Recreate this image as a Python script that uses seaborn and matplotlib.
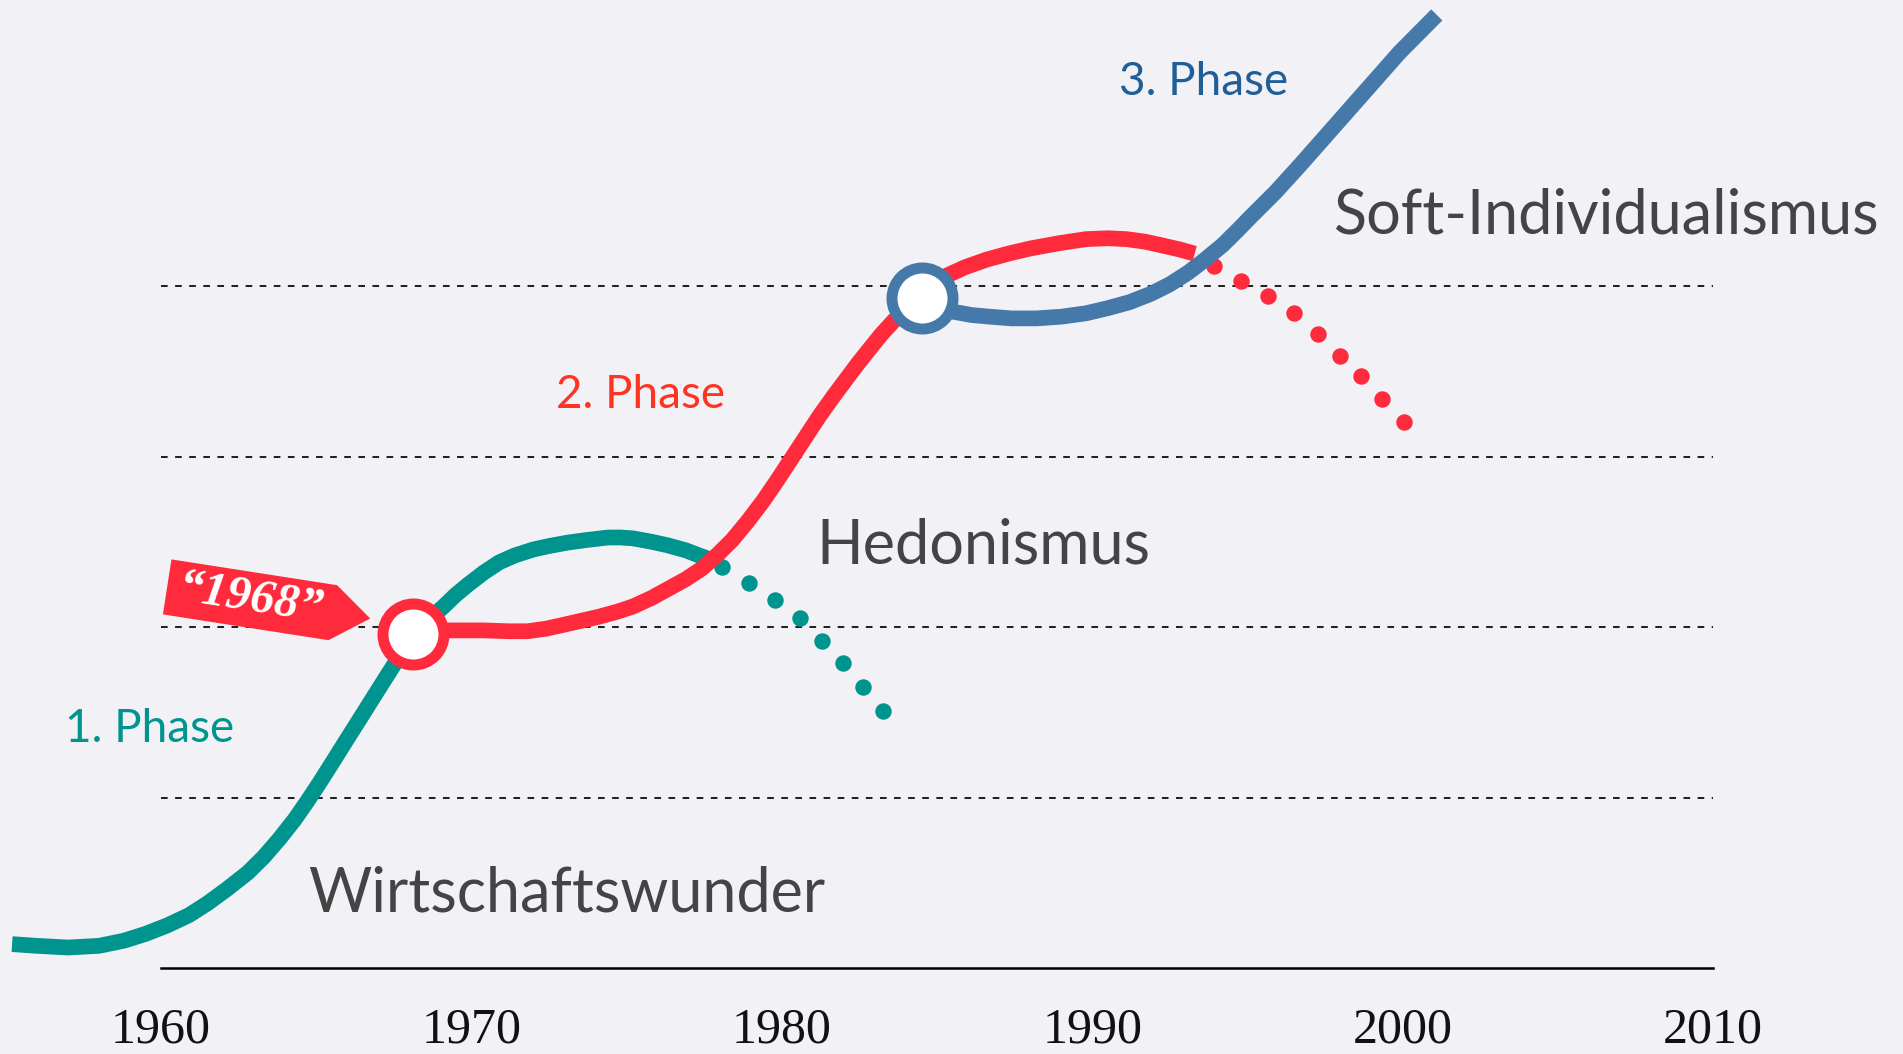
import seaborn as sns
import matplotlib.pyplot as plt
from matplotlib.path import Path

# phase curves (x = year, y = level, 1 level per band)
teal_years = [1955.2, 1956.0, 1957.0, 1958.0, 1958.8, 1959.5, 1960.2, 1960.9, 1961.5, 1962.1,
              1962.8, 1963.3, 1963.8, 1964.3, 1964.7, 1965.1, 1965.5, 1966.0, 1966.4, 1966.9,
              1967.3, 1967.7, 1968.1, 1969.1, 1969.5, 1969.9, 1970.4, 1970.9, 1971.4, 1972.0,
              1972.5, 1973.1, 1973.7, 1974.4, 1974.8, 1975.2, 1975.8, 1976.3, 1976.9, 1977.4,
              1977.8]
teal_level = [0.14, 0.13, 0.12, 0.13, 0.16, 0.20, 0.25, 0.31, 0.38, 0.46,
              0.56, 0.65, 0.755, 0.87, 0.975, 1.085, 1.20, 1.345, 1.46, 1.605,
              1.72, 1.835, 1.96, 2.12, 2.19, 2.25, 2.32, 2.38, 2.42, 2.455,
              2.475, 2.495, 2.51, 2.525, 2.525, 2.52, 2.50, 2.48, 2.45, 2.415,
              2.39]
teal_fade_years = [1978.07, 1978.94, 1979.78, 1980.59, 1981.30, 1981.97, 1982.62, 1983.26]
teal_fade_level = [2.35, 2.26, 2.16, 2.05, 1.92, 1.79, 1.65, 1.51]

red_years = [1968.1, 1968.7, 1969.3, 1970.4, 1971.2, 1971.8, 1972.4, 1972.9, 1973.5, 1974.1,
             1974.7, 1975.2, 1975.8, 1976.3, 1976.9, 1977.4, 1977.9, 1978.4, 1978.9, 1979.4,
             1979.85, 1980.3, 1980.75, 1981.2, 1981.65, 1982.1, 1982.45, 1982.8, 1983.2, 1983.6,
             1984.0, 1984.5, 1984.9, 1985.3, 1985.9, 1986.6, 1987.3, 1988.0, 1988.9, 1989.8,
             1990.5, 1991.1, 1991.7, 1992.2, 1992.8, 1993.3]
red_level = [1.96, 1.975, 1.98, 1.98, 1.975, 1.975, 1.99, 2.01, 2.035, 2.06,
             2.09, 2.12, 2.17, 2.22, 2.28, 2.34, 2.42, 2.51, 2.62, 2.74,
             2.86, 2.985, 3.11, 3.235, 3.35, 3.46, 3.545, 3.625, 3.715, 3.795,
             3.865, 3.93, 4.005, 4.06, 4.11, 4.155, 4.19, 4.22, 4.25, 4.275,
             4.28, 4.275, 4.26, 4.24, 4.215, 4.19]
red_fade_years = [1993.92, 1994.79, 1995.66, 1996.50, 1997.27, 1997.98, 1998.66, 1999.33, 2000.04]
red_fade_level = [4.12, 4.03, 3.94, 3.84, 3.72, 3.59, 3.47, 3.34, 3.20]

blue_years = [1984.5, 1985.5, 1986.1, 1986.7, 1987.4, 1988.2, 1989.0, 1989.8, 1990.5, 1991.2,
              1991.9, 1992.5, 1993.1, 1993.6, 1994.2, 1994.7, 1995.1, 1995.9, 1996.7, 1997.5,
              1998.3, 1999.1, 1999.9, 2001.1]
blue_level = [3.93, 3.85, 3.83, 3.82, 3.81, 3.81, 3.82, 3.84, 3.87, 3.905,
              3.955, 4.01, 4.08, 4.15, 4.24, 4.33, 4.405, 4.55, 4.71, 4.875,
              5.04, 5.205, 5.37, 5.59]

switch_years = [1968.1, 1984.5]
switch_level = [1.96, 3.93]

tick_years = [1960, 1970, 1980, 1990, 2000, 2010]
band_levels = [1, 2, 3, 4]
band_names = ["Wirtschaftswunder", "Hedonismus", "Soft-Individualismus"]
phase_names = ["1. Phase", "2. Phase", "3. Phase"]

BG = "#F2F1F6"
TEAL = "#00948F"
RED = "#FF2A3B"
BLUE = "#4479A9"
GREY = "#444444"

sns.set_theme(style="white", rc={"axes.facecolor": BG, "figure.facecolor": BG})
plt.rcParams["font.family"] = ["Lato", "DejaVu Sans"]

W, H, DPI = 1903, 1054, 100
fig = plt.figure(figsize=(W / DPI, H / DPI), dpi=DPI)
ax = fig.add_axes([0, 86 / H, 1, 1 - 86 / H])

# dashed band borders
ax.hlines(band_levels, tick_years[0], tick_years[-1], colors="#222222",
          linestyles=(0, (3.3, 3.7)), linewidth=1.45, zorder=1)

lw = 11.3
dot = 140
for xs, ys, c, z in [(teal_years, teal_level, TEAL, 2), (red_years, red_level, RED, 3),
                     (blue_years, blue_level, BLUE, 4)]:
    sns.lineplot(x=xs, y=ys, ax=ax, color=c, sort=False, zorder=z)
    line = ax.lines[-1]
    line.set_linewidth(lw)
    line.set_solid_capstyle("butt")
    line.set_solid_joinstyle("round")

sns.scatterplot(x=teal_fade_years, y=teal_fade_level, ax=ax, color=TEAL, s=dot,
                linewidth=0, zorder=2)
sns.scatterplot(x=red_fade_years, y=red_fade_level, ax=ax, color=RED, s=dot,
                linewidth=0, zorder=3)

# phase switch rings
for yr, lv, c in zip(switch_years, switch_level, [RED, BLUE]):
    ax.scatter([yr], [lv], s=1930, facecolor="white", edgecolor=c, linewidth=7.9, zorder=5)

ax.set_xlim(1954.81, 2016.12)
ax.set_ylim(0, 968 / 170.5)

for side in ["left", "right", "top"]:
    ax.spines[side].set_visible(False)
ax.spines["bottom"].set_bounds(tick_years[0], tick_years[-1])
ax.spines["bottom"].set_color("black")
ax.spines["bottom"].set_linewidth(1.8)

ax.set_yticks([])
ax.set_xticks(tick_years)
ax.set_xticklabels([str(y) for y in tick_years], family="Liberation Serif", fontsize=36,
                   color="#111111")
ax.tick_params(axis="x", length=0, pad=28)
ax.set_xlabel("")
ax.set_ylabel("")

# band names
for name, pos in zip(band_names, [(1964.74, 0.33), (1981.10, 2.37), (1997.80, 4.31)]):
    ax.text(pos[0], pos[1], name, fontsize=44, color=GREY, ha="left", va="baseline")

# phase names
for name, pos, c in zip(phase_names, [(1956.90, 1.325), (1972.72, 3.283), (1990.86, 5.12)],
                        [TEAL, "#FF3322", "#1F5E98"]):
    ax.text(pos[0], pos[1], name, fontsize=33, color=c, ha="left", va="baseline")


def tag_box(x0, y0, width, height, mutation_size):
    px = 0.22 * mutation_size
    py = 0.12 * mutation_size
    x0, y0 = x0 - px, y0 - py
    x1, y1 = x0 + width + 2 * px, y0 + height + 2 * py
    tip = 0.68 * (y1 - y0)
    ym = (y0 + y1) / 2
    return Path([(x0, y0), (x1, y0), (x1 + tip, ym), (x1, y1), (x0, y1), (x0, y0)],
                closed=True)


ax.annotate("\u201c1968\u201d", xy=(switch_years[0], switch_level[0]),
            xytext=(-117, 24.5), textcoords="offset points",
            ha="center", va="center", rotation=-8.85, rotation_mode="anchor",
            fontsize=35, fontweight="bold", fontstyle="italic",
            family="Liberation Serif", color="white",
            bbox=dict(boxstyle=tag_box, fc=RED, ec="none"), zorder=6)

fig.savefig("out.png", dpi=DPI, facecolor=BG)
